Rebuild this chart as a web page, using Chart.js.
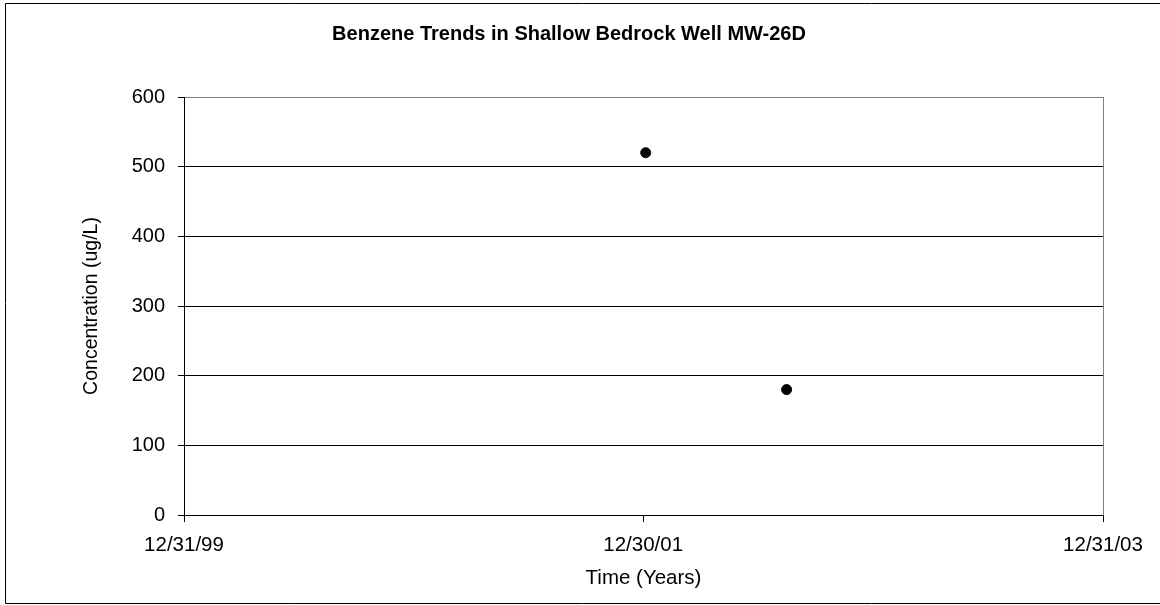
<!DOCTYPE html>
<html>
<head>
<meta charset="utf-8">
<script src="https://cdn.jsdelivr.net/npm/chart.js@4"></script>
<style>
  body { margin: 0; background: #fff; }
  canvas { display: block; }
</style>
</head>
<body>
<canvas id="benzeneChart" width="1160" height="605"></canvas>
<script>
// sampling dates and benzene results (ug/L)
const sampleDates = ['2002-01-03', '2002-08-15'];
const benzene = [520, 180];

// x axis ticks (Excel style date labels)
const xTickDates = ['1999-12-31', '2001-12-30', '2003-12-31'];
const xTickLabels = ['12/31/99', '12/30/01', '12/31/03'];
const yTicks = [0, 100, 200, 300, 400, 500, 600];

const base = Date.UTC(1999, 11, 31);
const toDays = s => {
  const p = s.split('-').map(Number);
  return Math.round((Date.UTC(p[0], p[1] - 1, p[2]) - base) / 86400000);
};
const xTickDays = xTickDates.map(toDays);
const points = sampleDates.map((d, i) => ({ x: toDays(d), y: benzene[i] }));

const FONT = "'Liberation Sans', Arial, sans-serif";

const frame = {
  id: 'frame',
  beforeDraw(chart) {
    const c = chart.ctx;
    c.save();
    c.fillStyle = '#fff';
    c.fillRect(0, 0, chart.width, chart.height);
    c.strokeStyle = '#000';
    c.lineWidth = 1;
    c.beginPath();
    c.moveTo(1160, 3.5); c.lineTo(5.5, 3.5); c.lineTo(5.5, 603.5); c.lineTo(1160, 603.5);
    c.stroke();
    c.restore();
  }
};

const ctx = document.getElementById('benzeneChart');
new Chart(ctx, {
  type: 'scatter',
  data: {
    datasets: [{
      data: points,
      backgroundColor: '#000',
      borderColor: '#000',
      pointRadius: 5,
      pointHoverRadius: 5
    }]
  },
  options: {
    responsive: false,
    animation: false,
    layout: { padding: { left: 35, right: 57, top: 0, bottom: 0 } },
    plugins: {
      legend: { display: false },
      tooltip: { enabled: false },
      title: {
        display: true,
        text: 'Benzene Trends in Shallow Bedrock Well MW-26D',
        color: '#000',
        font: { family: FONT, size: 20, weight: 'bold', lineHeight: 1.2 },
        padding: { top: 22.5, bottom: 50.5 }
      }
    },
    scales: {
      x: {
        type: 'linear',
        min: xTickDays[0],
        max: xTickDays[xTickDays.length - 1],
        afterBuildTicks: s => { s.ticks = xTickDays.map(v => ({ value: v })); },
        afterFit: s => { s.height = 90; },
        ticks: {
          color: '#000',
          font: { family: FONT, size: 20.5 },
          padding: 11,
          maxRotation: 0,
          autoSkip: false,
          callback: (v) => xTickLabels[xTickDays.indexOf(v)]
        },
        grid: {
          color: c => ['#000', 'rgba(0,0,0,0)', '#808080'][c.index],
          tickColor: '#000',
          tickLength: 7,
          lineWidth: 1
        },
        border: { color: '#000', width: 1 },
        title: {
          display: true,
          text: 'Time (Years)',
          color: '#000',
          font: { family: FONT, size: 20.5, lineHeight: 1.2 },
          padding: { top: 0, bottom: 14 }
        }
      },
      y: {
        min: 0,
        max: 600,
        afterBuildTicks: s => { s.ticks = yTicks.map(v => ({ value: v })); },
        afterFit: s => { s.width = 149; },
        ticks: {
          color: '#000',
          font: { family: FONT, size: 20 },
          padding: 13
        },
        grid: {
          color: c => (c.tick && c.tick.value === 600) ? '#808080' : '#000',
          tickColor: '#000',
          tickLength: 6,
          lineWidth: 1
        },
        border: { color: '#000', width: 1 },
        title: {
          display: true,
          text: 'Concentration (ug/L)',
          color: '#000',
          font: { family: FONT, size: 19.5, lineHeight: 1.2 },
          padding: { top: 45.3, bottom: 0 }
        }
      }
    }
  },
  plugins: [frame]
});
</script>
</body>
</html>
